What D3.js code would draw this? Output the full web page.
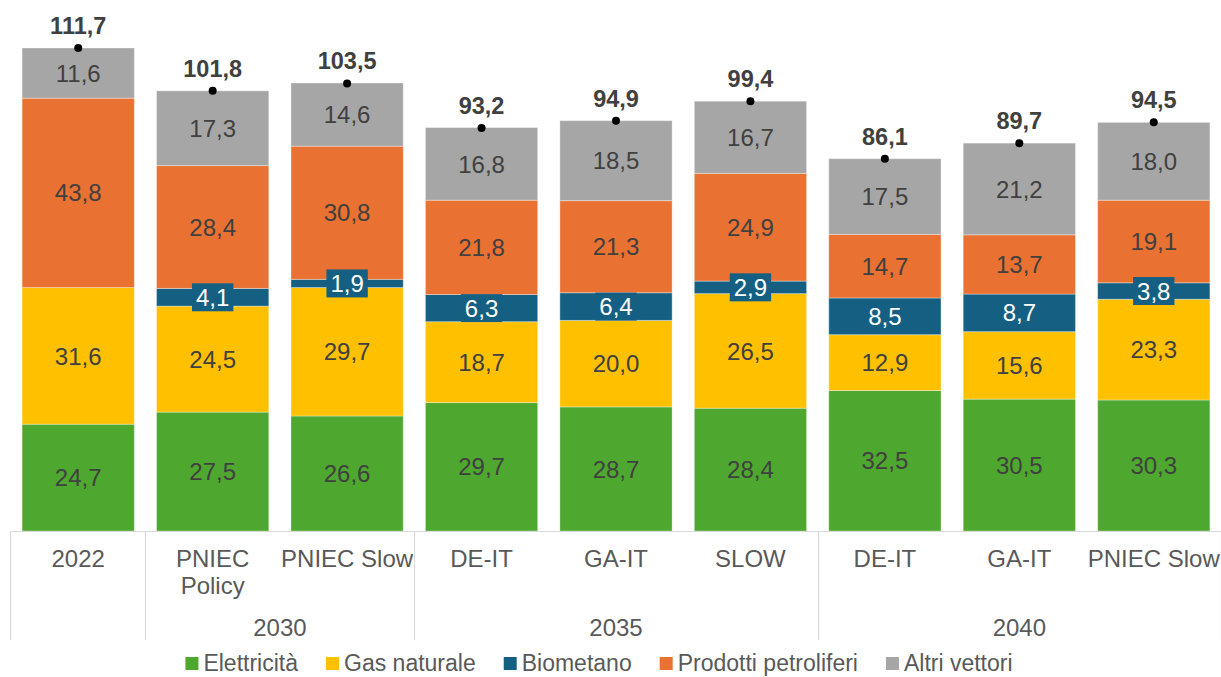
<!DOCTYPE html>
<html>
<head>
<meta charset="utf-8">
<script src="https://cdn.jsdelivr.net/npm/d3@7"></script>
<style>
  body { margin: 0; background: #fff; }
  text { font-family: "Liberation Sans", Arial, sans-serif; }
</style>
</head>
<body>
<div id="chart"></div>
<script>
// categories and groups
var scenarios = ["2022", "PNIEC Policy", "PNIEC Slow", "DE-IT", "GA-IT", "SLOW", "DE-IT", "GA-IT", "PNIEC Slow"];
var years = ["", "2030", "2030", "2035", "2035", "2035", "2040", "2040", "2040"];
var seriesNames = ["Elettricità", "Gas naturale", "Biometano", "Prodotti petroliferi", "Altri vettori"];

// values (Mtep)
var elettricita = [24.7, 27.5, 26.6, 29.7, 28.7, 28.4, 32.5, 30.5, 30.3];
var gasNaturale = [31.6, 24.5, 29.7, 18.7, 20.0, 26.5, 12.9, 15.6, 23.3];
var biometano   = [0, 4.1, 1.9, 6.3, 6.4, 2.9, 8.5, 8.7, 3.8];
var petroliferi = [43.8, 28.4, 30.8, 21.8, 21.3, 24.9, 14.7, 13.7, 19.1];
var altri       = [11.6, 17.3, 14.6, 16.8, 18.5, 16.7, 17.5, 21.2, 18.0];
var totali      = [111.7, 101.8, 103.5, 93.2, 94.9, 99.4, 86.1, 89.7, 94.5];

var colors = ["#4ea72e", "#ffc000", "#156082", "#e97132", "#a6a6a6"];

var svgWidth = 1221, svgHeight = 677;
var baseY = 531;
var fs = 24;

var svg = d3.select("#chart").append("svg")
  .attr("width", svgWidth)
  .attr("height", svgHeight);

// build table for stacking
var table = scenarios.map(function(s, i) {
  return {
    idx: i,
    "Elettricità": elettricita[i],
    "Gas naturale": gasNaturale[i],
    "Biometano": biometano[i],
    "Prodotti petroliferi": petroliferi[i],
    "Altri vettori": altri[i]
  };
});

var x = d3.scaleBand()
  .domain(d3.range(scenarios.length))
  .range([11, 1221])
  .paddingInner(0.165)
  .paddingOuter(0.0825);

var y = d3.scaleLinear()
  .domain([0, 111.7])
  .range([baseY, 48]);

var fmt = function(v) { return d3.format(".1f")(v).replace(".", ","); };

var stack = d3.stack().keys(seriesNames)(table);

var layers = svg.append("g").selectAll("g")
  .data(stack)
  .enter().append("g")
  .attr("fill", (d, i) => colors[i]);

layers.selectAll("rect")
  .data(d => d)
  .enter().append("rect")
  .attr("x", d => x(d.data.idx))
  .attr("width", x.bandwidth())
  .attr("y", d => y(d[1]))
  .attr("height", d => y(d[0]) - y(d[1]))
  .attr("stroke", "rgba(255,255,255,0.35)")
  .attr("stroke-width", 1);

// segment labels
stack.forEach(function(layer, si) {
  var g = svg.append("g");
  layer.forEach(function(d) {
    var v = d[1] - d[0];
    if (v <= 0) return;
    var cx = x(d.data.idx) + x.bandwidth() / 2;
    var cy = (y(d[0]) + y(d[1])) / 2;
    var box = null;
    if (si === 2) {
      box = g.append("rect").attr("fill", colors[2]);
    }
    var t = g.append("text")
      .attr("x", cx)
      .attr("y", cy)
      .attr("dy", "0.36em")
      .attr("text-anchor", "middle")
      .attr("font-size", fs)
      .attr("fill", si === 2 ? "#ffffff" : "#404040")
      .text(fmt(v));
    if (box) {
      var w = t.node().getComputedTextLength() + 8;
      box.attr("x", cx - w / 2)
        .attr("y", cy - 14)
        .attr("width", w)
        .attr("height", 28);
    }
  });
});

// totals
var tot = svg.append("g");
tot.selectAll("circle")
  .data(totali)
  .enter().append("circle")
  .attr("cx", (d, i) => x(i) + x.bandwidth() / 2)
  .attr("cy", d => y(d))
  .attr("r", 4)
  .attr("fill", "#000");

tot.selectAll("text")
  .data(totali)
  .enter().append("text")
  .attr("x", (d, i) => x(i) + x.bandwidth() / 2)
  .attr("y", d => y(d) - 14)
  .attr("text-anchor", "middle")
  .attr("font-size", 23.5)
  .attr("font-weight", "bold")
  .attr("fill", "#404040")
  .text(d => fmt(d));

// axis: horizontal line and group separators
var axis = svg.append("g").attr("stroke", "#d9d9d9").attr("stroke-width", 1.2);
axis.append("line")
  .attr("x1", 10).attr("x2", 1221)
  .attr("y1", baseY + 0.5).attr("y2", baseY + 0.5);

var step = x.step();
var left0 = x(0) - x.paddingOuter() * step;
var bounds = [0, 1, 3, 6, 9];
bounds.forEach(function(b) {
  var bx = Math.round(left0 + b * step - (b === 0 ? 1 : 0)) + 0.5;
  axis.append("line")
    .attr("x1", bx).attr("x2", bx)
    .attr("y1", baseY).attr("y2", 640);
});

// category labels
var cat = svg.append("g");
scenarios.forEach(function(s, i) {
  var cx = x(i) + x.bandwidth() / 2;
  var t = cat.append("text")
    .attr("x", cx)
    .attr("y", 567)
    .attr("text-anchor", "middle")
    .attr("font-size", fs)
    .attr("fill", "#595959");
  if (s === "PNIEC Policy") {
    t.append("tspan").attr("x", cx).text("PNIEC");
    t.append("tspan").attr("x", cx).attr("dy", 27).text("Policy");
  } else {
    t.text(s);
  }
});

// group labels
var groups = [["2030", 1, 3], ["2035", 3, 6], ["2040", 6, 9]];
groups.forEach(function(g) {
  var gx = left0 + (g[1] + g[2]) / 2 * step;
  svg.append("text")
    .attr("x", gx)
    .attr("y", 636)
    .attr("text-anchor", "middle")
    .attr("font-size", fs)
    .attr("fill", "#595959")
    .text(g[0]);
});

// legend
var legend = svg.append("g");
var lx = 0;
seriesNames.forEach(function(name, i) {
  var item = legend.append("g").attr("transform", "translate(" + lx + ",0)");
  item.append("rect")
    .attr("x", 0).attr("y", -6)
    .attr("width", 13).attr("height", 13)
    .attr("fill", colors[i]);
  var t = item.append("text")
    .attr("x", 18)
    .attr("y", 0)
    .attr("dy", "0.36em")
    .attr("font-size", 23)
    .attr("fill", "#595959")
    .text(name);
  lx += 18 + t.node().getComputedTextLength() + 28;
});
var legendW = lx - 28;
legend.attr("transform", "translate(" + (599 - legendW / 2) + ",663)");
</script>
</body>
</html>
